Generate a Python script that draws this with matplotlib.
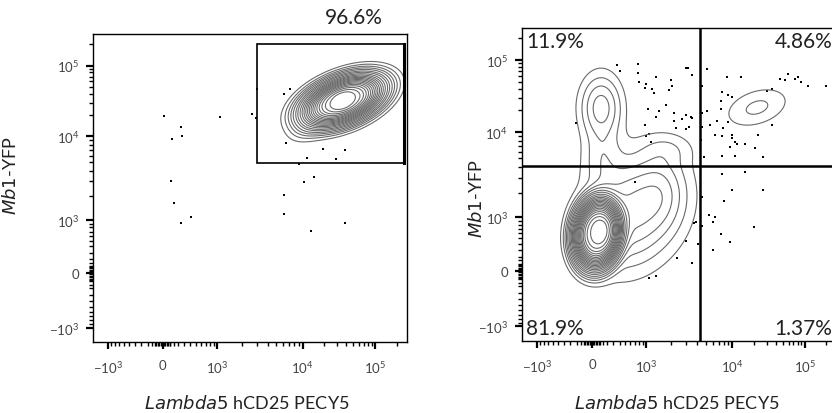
import numpy as np
import matplotlib
matplotlib.use("Agg")
import matplotlib.pyplot as plt
from matplotlib.patches import Rectangle

plt.rcParams['font.family'] = ['Lato', 'DejaVu Sans']
plt.rcParams['mathtext.default'] = 'regular'

# ---- axis ticks (biexponential display) ----
major_vals = [-1000, 0, 1000, 1e4, 1e5]
major_labels = [r'$-10^{3}$', '0', r'$10^{3}$', r'$10^{4}$', r'$10^{5}$']
minor_vals = ([-900, -800, -700, -600, -500, -400, -300, -200, -150, -100,
               -90, -70, -50, -30, -10, 10, 30, 50, 70, 90,
               100, 150, 200, 300, 400, 500, 600, 700, 800, 900]
              + [2000, 3000, 4000, 5000, 6000, 7000, 8000, 9000]
              + [20000, 30000, 40000, 50000, 60000, 70000, 80000, 90000, 200000])

# knots of the display transform: value -> position along the axis
knot_vals = np.array([-1000, 0, 1000, 1e4, 1e5, 262143])
knot_pos = np.array([0, 55, 109, 194, 266, 296])
W = 500.0

A = np.arcsinh(knot_vals / W)
s0 = (knot_pos[1] - knot_pos[0]) / (A[1] - A[0])
s1 = (knot_pos[-1] - knot_pos[-2]) / (A[-1] - A[-2])
A_ext = np.concatenate([[A[0] - 20], A, [A[-1] + 20]])
P_ext = np.concatenate([[knot_pos[0] - 20 * s0], knot_pos, [knot_pos[-1] + 20 * s1]])


def fwd(v):
    return np.interp(np.arcsinh(np.asarray(v, float) / W), A_ext, P_ext)


def inv(p):
    return W * np.sinh(np.interp(np.asarray(p, float), P_ext, A_ext))


LIM = (float(inv(-14.5)), float(inv(298)))

# contour levels as fractions of the peak density
LEVEL_FRACS = [0.01, 0.025, 0.045, 0.07, 0.10, 0.14, 0.18, 0.23, 0.28, 0.33, 0.38,
               0.43, 0.48, 0.53, 0.58, 0.63, 0.68, 0.73, 0.78, 0.83, 0.88, 0.93, 0.97]

# ---- left panel data ----
# density components: x, y (values), sx, sy (display width), rho, peak, shape
left_comp = [
    (36000, 32000, 31, 20, 0.45, 1.0, 1.6),
    (36000, 32000, 6, 5, 0.3, 0.12, 1.0),
    (12000, 13500, 12, 9, 0.4, 0.03, 1.0),
]
left_dots_x = [15, 1100, 2600, 2900, 250, 121, 265, 108, 149, 410, 250, 6100, 6100,
               10600, 14200, 13300, 39000, 6500, 11700, 19000, 29000, 39000, 9200,
               3000, 6100, 7200]
left_dots_y = [19500, 19000, 21000, 18400, 13700, 9400, 10300, 3000, 1660, 1110, 915,
               2030, 1200, 2950, 3400, 710, 915, 8400, 5650, 7200, 5500, 6900, 4800,
               46500, 40000, 46500]
left_gate = (3000, 4900, 250000, 200000)  # x0, y0, x1, y1
left_pct = '96.6%'

# ---- right panel data ----
right_comp = [
    (67, 600, 19, 28, 0.1, 1.0, 1.8),
    (645, 1180, 28, 32, 0.2, 0.12, 1.0),
    (1540, 2020, 14, 22, 0.0, 0.04, 1.0),
    (121, 22000, 12, 19, 0.0, 0.09, 1.0),
    (135, 5200, 12, 20, 0.0, 0.035, 1.0),
    (1770, 6300, 16, 10, 0.0, 0.02, 1.0),
    (22000, 22000, 19, 12, 0.35, 0.031, 1.0),
]
right_gate = (4300, 4100)
right_pct = ['11.9%', '4.86%', '81.9%', '1.37%']
right_dots_x = [360, 410, 770, 790, 1000, 950, 1180, 1240, 1310, 1970, 2020, 1860, 3000,
                3470, 1060, 1720, 1310, 1420, 2140, 2650, 2950, 3380, 2250, 2950, 3200,
                1000, 1080, 1150, -212, 2140, 950, 3100, 770, 3470,
                5200, 8700, 13300, 4550, 7600, 8900, 7400, 10000, 4550, 5200, 7400, 6800,
                5650, 8900, 4550, 7800, 6300, 7600, 10000, 10000, 11000, 11700, 4450,
                9500, 15000, 22700, 35500, 20700, 4800, 7600, 11000, 26500, 45500, 58500,
                53000, 73000, 80000, 88000, 110000, 195000, 35500, 30000,
                7600, 15000, 10000, 26500, 8100, 4550, 5500, 6300, 6000, 7400, 9500, 6000,
                20000, 4550, 4100,
                3700, 2950, 2300, 3470, 1080, 1310, 695, 3850]
right_dots_y = [85000, 71000, 66000, 50000, 47000, 41500, 40000, 35500, 58500, 53000, 44000,
                39000, 77000, 62000, 21300, 24000, 16500, 19500, 18200, 15000, 17100, 16500,
                11300, 11000, 11700, 9000, 9500, 7800, 13300, 14100, 12500, 77000, 88000,
                15500,
                76000, 58500, 58500, 44000, 36500, 33000, 27400, 31000, 18200, 19500, 20700,
                14100, 12500, 13700, 11700, 11300, 9200, 9000, 9200, 8500, 7800, 7400, 8100,
                6800, 7400, 9300, 12500, 6500, 5200, 5350, 5350, 5200, 55000, 64000, 53000,
                55000, 58500, 50000, 44000, 44000, 40000, 37600,
                3300, 3450, 2140, 2140, 1580, 1770, 1060, 1000, 860, 595, 440, 300,
                735, 760, 400,
                840, 460, 180, 110, -82, -55, 2700, 860]


def density(comps):
    g = np.linspace(-14.5, 298, 420)
    PX, PY = np.meshgrid(g, g)
    d = np.zeros_like(PX)
    for cx, cy, sx, sy, rho, peak, beta in comps:
        dx = (PX - fwd(cx)) / sx
        dy = (PY - fwd(cy)) / sy
        q = (dx ** 2 - 2 * rho * dx * dy + dy ** 2) / (1 - rho ** 2)
        d += peak * np.exp(-0.5 * q ** beta)
    return inv(PX), inv(PY), d


def style_axes(ax):
    ax.set_xscale('function', functions=(fwd, inv))
    ax.set_yscale('function', functions=(fwd, inv))
    ax.set_xlim(LIM)
    ax.set_ylim(LIM)
    for axis in (ax.xaxis, ax.yaxis):
        axis.set_ticks(major_vals)
        axis.set_ticklabels(major_labels)
        axis.set_ticks(minor_vals, minor=True)
    ax.tick_params(which='major', length=5, width=1.6, direction='out',
                   labelsize=9.5, labelcolor='#444444', pad=5)
    ax.tick_params(axis='x', which='major', pad=7)
    ax.tick_params(which='minor', length=3, width=1.0, direction='out')
    for sp in ax.spines.values():
        sp.set_linewidth(1.0)
    ax.set_xlabel(r'$\it{Lambda5}$ hCD25 PECY5', fontsize=13, color='#222222')
    ax.set_ylabel(r'$\it{Mb1}$-YFP', fontsize=13, color='#222222')


fig = plt.figure(figsize=(8.32, 4.14), dpi=100)
axL = fig.add_axes([0.1118, 0.1715, 0.3774, 0.744])
axR = fig.add_axes([0.6274, 0.1739, 0.3786, 0.756])

# left panel
style_axes(axL)
X, Y, D = density(left_comp)
axL.contour(X, Y, D, levels=D.max() * np.array(LEVEL_FRACS[:21]),
            colors='#6a6a6a', linewidths=0.8)
axL.scatter(left_dots_x, left_dots_y, s=0.9, c='black', marker='s', linewidths=0)
gx0, gy0, gx1, gy1 = left_gate
axL.add_patch(Rectangle((gx0, gy0), gx1 - gx0, gy1 - gy0, fill=False,
                        edgecolor='black', linewidth=1.2))
axL.plot([gx1, gx1], [gy0, gy1], color='black', linewidth=2.2)
axL.text(0.924, 1.022, left_pct, transform=axL.transAxes, ha='right', va='bottom',
         fontsize=15, color='#222222')
axL.xaxis.set_label_coords(0.49, -0.165)
axL.yaxis.set_label_coords(-0.235, 0.545)

# right panel
style_axes(axR)
X, Y, D = density(right_comp)
axR.contour(X, Y, D, levels=D.max() * np.array(LEVEL_FRACS),
            colors='#6a6a6a', linewidths=0.8)
axR.scatter(right_dots_x, right_dots_y, s=0.9, c='black', marker='s', linewidths=0)
axR.axvline(right_gate[0], color='black', linewidth=1.8)
axR.axhline(right_gate[1], color='black', linewidth=1.8)
axR.text(0.012, 0.99, right_pct[0], transform=axR.transAxes, ha='left', va='top',
         fontsize=15, color='#222222')
axR.text(0.985, 0.99, right_pct[1], transform=axR.transAxes, ha='right', va='top',
         fontsize=15, color='#222222')
axR.text(0.012, 0.01, right_pct[2], transform=axR.transAxes, ha='left', va='bottom',
         fontsize=15, color='#222222')
axR.text(0.985, 0.01, right_pct[3], transform=axR.transAxes, ha='right', va='bottom',
         fontsize=15, color='#222222')
axR.xaxis.set_label_coords(0.49, -0.165)
axR.yaxis.set_label_coords(-0.117, 0.457)

fig.savefig('out.png', dpi=100)
